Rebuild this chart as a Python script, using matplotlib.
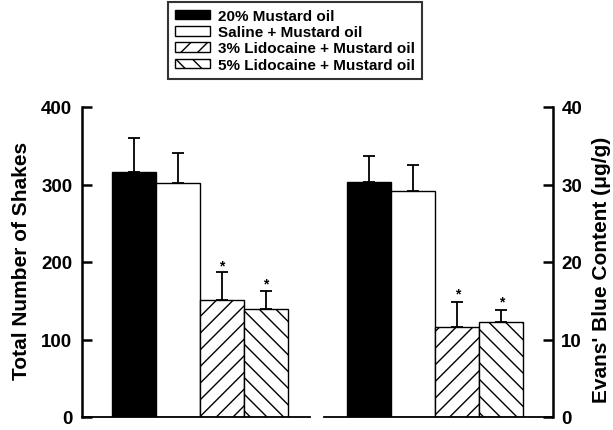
import matplotlib
matplotlib.use("Agg")
import matplotlib.pyplot as plt

categories = ['20% Mustard oil', 'Saline + Mustard oil',
              '3% Lidocaine + Mustard oil', '5% Lidocaine + Mustard oil']
shakes = [316, 302, 151, 139]
shakes_sem = [44, 39, 36, 24]
evans = [30.3, 29.1, 11.6, 12.2]
evans_sem = [3.4, 3.4, 3.2, 1.6]
significant = [False, False, True, True]
left_ticks = [0, 100, 200, 300, 400]
right_ticks = [0, 10, 20, 30, 40]

faces = ['black', 'white', 'white', 'white']
hatches = [None, None, '//', '\\\\']

plt.rcParams['font.family'] = ['Liberation Sans', 'DejaVu Sans']
plt.rcParams['font.weight'] = 'bold'
plt.rcParams['hatch.linewidth'] = 1.0

W, H = 613, 431
fig = plt.figure(figsize=(W / 100, H / 100), dpi=100)

ax1 = fig.add_axes([82 / W, (H - 418) / H, (310 - 82) / W, 310 / H])
ax2 = fig.add_axes([324 / W, (H - 418) / H, (553 - 324) / W, 310 / H])


def draw(ax, vals, errs, ymax, star_off):
    handles = []
    for i, (v, e) in enumerate(zip(vals, errs)):
        b = ax.bar(i, v, width=1.0, color=faces[i], edgecolor='black',
                   linewidth=1.0, hatch=hatches[i], label=categories[i],
                   zorder=2)
        ax.errorbar(i, v, yerr=[[0], [e]], fmt='none', ecolor='black',
                    elinewidth=1.3, capsize=4.2, capthick=1.3, zorder=1)
        if significant[i]:
            ax.text(i, v + e + star_off, '*', ha='center', va='center',
                    fontsize=10, fontweight='bold')
        handles.append(b[0])
    ax.set_ylim(0, ymax)
    return handles


handles = draw(ax1, shakes, shakes_sem, 400, 9)
draw(ax2, evans, evans_sem, 40, 1.1)

ax1.set_xlim(-1.175, 4.01)
ax2.set_xlim(-1.03, 4.175)

for ax in (ax1, ax2):
    ax.set_xticks([])
    ax.spines['top'].set_visible(False)
    ax.spines['bottom'].set_linewidth(1.3)
    ax.patch.set_visible(False)

ax1.spines['right'].set_visible(False)
ax1.spines['left'].set_linewidth(1.8)
ax1.set_yticks(left_ticks)
ax1.tick_params(axis='y', direction='in', length=7, width=1.8, pad=7,
                labelsize=13.5)

ax2.spines['left'].set_visible(False)
ax2.spines['right'].set_linewidth(1.8)
ax2.yaxis.set_label_position('right')
ax2.yaxis.tick_right()
ax2.set_yticks(right_ticks)
ax2.tick_params(axis='y', direction='in', length=7, width=1.8, pad=6,
                labelsize=13.5)

for lab in ax1.get_yticklabels() + ax2.get_yticklabels():
    lab.set_fontweight('bold')

ax1.set_ylabel('Total Number of Shakes', fontsize=15, fontweight='bold')
ax1.yaxis.set_label_coords(-0.225, 0.508)
ax2.set_ylabel("Evans' Blue Content (\u03bcg/g)", fontsize=15,
               fontweight='bold')
ax2.yaxis.set_label_coords(1.17, 0.479)

leg = fig.legend(handles=handles, labels=categories, loc='upper center',
                 bbox_to_anchor=(295 / W, 1 - 3 / H), frameon=True,
                 fancybox=False, shadow=False, fontsize=11,
                 handlelength=2.3, handleheight=0.6, handletextpad=0.55,
                 labelspacing=0.15, borderpad=0.45, borderaxespad=0)
leg.get_frame().set_edgecolor('black')
leg.get_frame().set_linewidth(1.5)
for t in leg.get_texts():
    t.set_fontweight('bold')

fig.savefig('out.png', dpi=100)
